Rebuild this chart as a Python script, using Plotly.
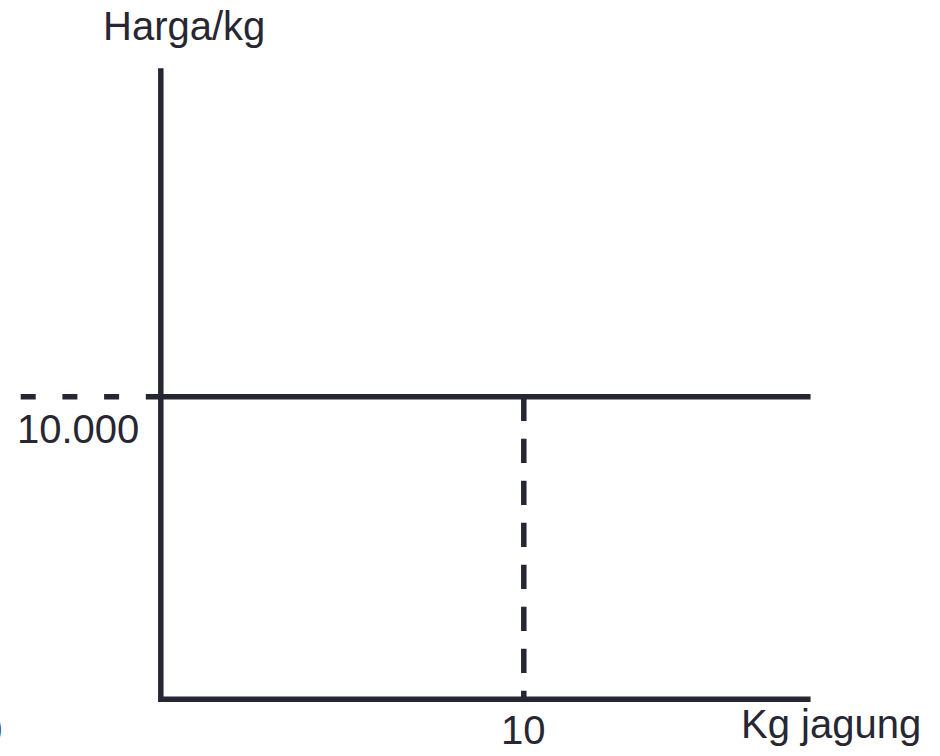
import plotly.graph_objects as go

# Data
price = 10000          # Harga/kg (horizontal line)
quantity = 10          # Kg jagung (vertical dashed line)
x_axis_end = 17.9      # extent of the horizontal axis (kg)
y_axis_end = 20860     # extent of the vertical axis (price)
x_title = "Kg jagung"
y_title = "Harga/kg"
price_label = "10.000"
quantity_label = "10"
origin_label = "0"

INK = "#272733"
FONT = "Liberation Sans, Arial, sans-serif"
FS = 40
LW = 5.5

# pixel scale helpers (plot area = whole figure)
W, H = 940, 756
x0_px, x_per = 160.8, 36.3          # x=0 at 160.8 px, 36.3 px per kg
y0_px, y_per = 699.2, 0.03025       # y=0 at 699.2 px, px per price unit
x_range = [-x0_px / x_per, (W - x0_px) / x_per]
y_range = [-(H - y0_px) / y_per, y0_px / y_per]

fig = go.Figure()

# axes (L shape)
fig.add_trace(go.Scatter(
    x=[0, 0, x_axis_end], y=[y_axis_end, 0, 0], mode="lines",
    line=dict(color=INK, width=LW), hoverinfo="skip", showlegend=False))

# horizontal solid price line
fig.add_trace(go.Scatter(
    x=[0, x_axis_end], y=[price, price], mode="lines",
    line=dict(color=INK, width=LW), hoverinfo="skip", showlegend=False))

# horizontal dashed extension to the left
fig.add_trace(go.Scatter(
    x=[0, x_range[0]], y=[price, price], mode="lines",
    line=dict(color=INK, width=LW, dash="15px,26.7px"),
    hoverinfo="skip", showlegend=False))

# vertical dashed line at quantity
fig.add_trace(go.Scatter(
    x=[quantity, quantity], y=[price, 0], mode="lines",
    line=dict(color=INK, width=LW, dash="24.3px,17.7px"),
    hoverinfo="skip", showlegend=False))

font = dict(family=FONT, size=FS, color=INK)
ann = [
    dict(text=y_title, xref="paper", yref="paper", x=183.5 / W, y=1 - 26 / H,
         xanchor="center", yanchor="middle", showarrow=False, font=font),
    dict(text=x_title, xref="paper", yref="paper", x=831 / W, y=1 - 724 / H,
         xanchor="center", yanchor="middle", showarrow=False, font=font),
    dict(text=price_label, xref="x", yref="y", x=0, y=price,
         xshift=78.3 - x0_px, yshift=-(429 - 396.7),
         xanchor="center", yanchor="middle", showarrow=False, font=font),
    dict(text=quantity_label, xref="x", yref="y", x=quantity, y=0,
         xshift=-0.5, yshift=-(729.5 - y0_px),
         xanchor="center", yanchor="middle", showarrow=False, font=font),
    dict(text=origin_label, xref="paper", yref="paper", x=-9.5 / W, y=1 - 729.5 / H,
         xanchor="center", yanchor="middle", showarrow=False, font=font),
]

fig.update_layout(
    width=W, height=H,
    margin=dict(l=0, r=0, t=0, b=0),
    paper_bgcolor="white", plot_bgcolor="white",
    xaxis=dict(range=x_range, visible=False, fixedrange=True),
    yaxis=dict(range=y_range, visible=False, fixedrange=True),
    annotations=ann,
    showlegend=False,
)

fig.write_html(
    "out.html",
    config={"displayModeBar": False},
    post_script="document.body.style.margin='0';document.body.style.overflow='hidden';",
)
